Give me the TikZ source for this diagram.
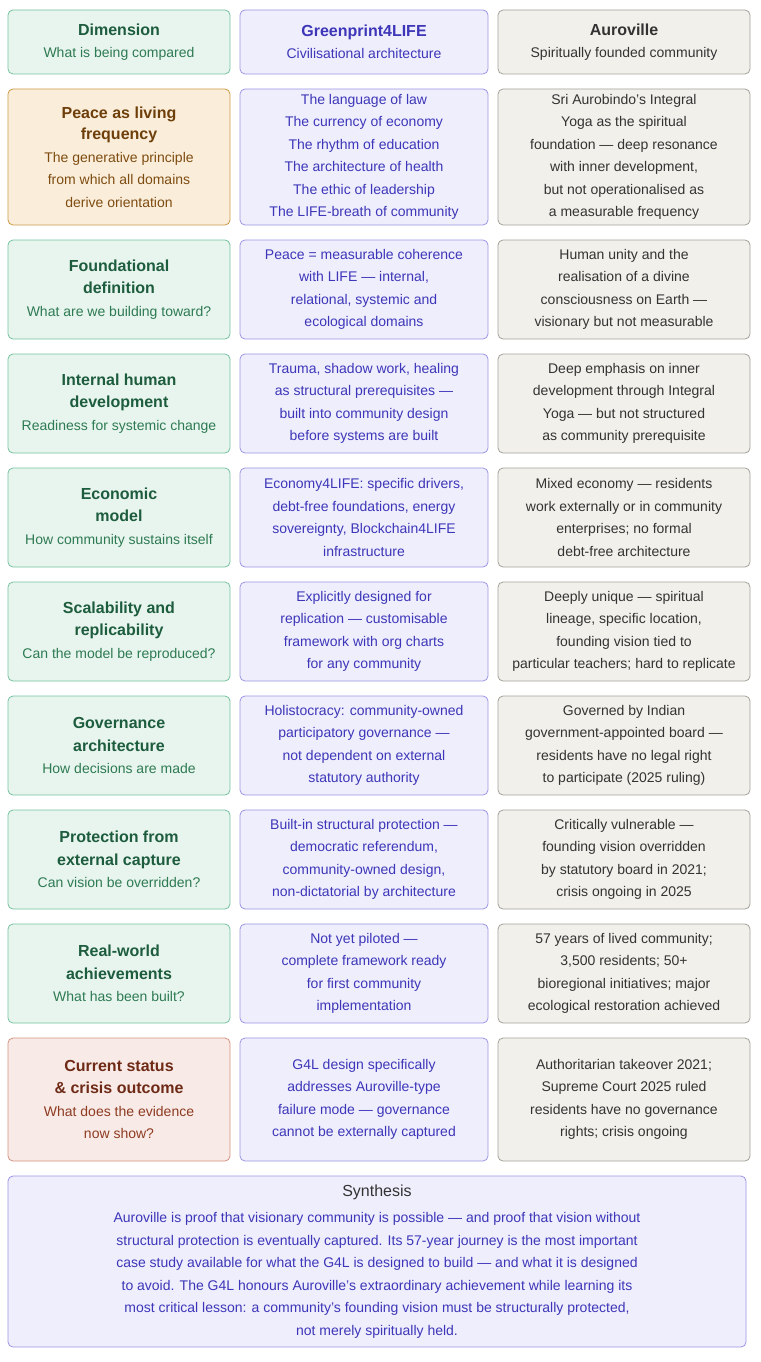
\documentclass[tikz,border=0pt]{standalone}
\usepackage{fontspec}
\setmainfont{Liberation Sans}
\definecolor{gF}{HTML}{E7F5EE}\definecolor{gB}{HTML}{74C29E}\definecolor{gT}{HTML}{1E5C3E}\definecolor{gS}{HTML}{2E7A52}
\definecolor{lF}{HTML}{EFEEFD}\definecolor{lB}{HTML}{9A96E4}\definecolor{lT}{HTML}{3D36B8}
\definecolor{yF}{HTML}{F1F0EB}\definecolor{yB}{HTML}{A3A199}\definecolor{yT}{HTML}{333333}
\definecolor{oF}{HTML}{FAEEDB}\definecolor{oB}{HTML}{CC9A45}\definecolor{oT}{HTML}{6E3F0A}\definecolor{oS}{HTML}{7E4C10}
\definecolor{rF}{HTML}{F8EAE6}\definecolor{rB}{HTML}{D49280}\definecolor{rT}{HTML}{6E2A16}\definecolor{rS}{HTML}{8E3B22}
\tikzset{
 cellbox/.style={draw,rounded corners=5pt,line width=0.8pt,align=center,inner sep=0pt,font=\fontsize{14}{22.5}\selectfont},
 cg/.style={cellbox,fill=gF,draw=gB,text=gS},
 cl/.style={cellbox,fill=lF,draw=lB,text=lT},
 cy/.style={cellbox,fill=yF,draw=yB,text=yT},
 co/.style={cellbox,fill=oF,draw=oB,text=oS},
 cr/.style={cellbox,fill=rF,draw=rB,text=rS},
}
\newcommand{\cell}[7]{\node[#2,minimum width=#5pt-#3pt,minimum height=#6pt-#4pt] (#1) at ({(#3+#5)/2},{(#4+#6)/2}) {#7};}
\newcommand{\ttl}[2]{{\fontsize{16}{22.5}\selectfont\bfseries\color{#1}#2}}
\begin{document}
\begin{tikzpicture}[x=1pt,y=-1pt]
\useasboundingbox (0,0) rectangle (760,1362);
% header
\cell{h1}{cg}{8}{10}{230}{74}{\ttl{gT}{Dimension}\\What is being compared}
\cell{h2}{cl}{240}{10}{488}{74}{\ttl{lT}{Greenprint4LIFE}\\Civilisational architecture}
\cell{h3}{cy}{498}{10}{750}{74}{\ttl{yT}{Auroville}\\Spiritually founded community}
% row1
\cell{a1}{co}{8}{89}{230}{225}{\ttl{oT}{Peace as living}\\[-1pt]\ttl{oT}{frequency}\\The generative principle\\from which all domains\\derive orientation}
\cell{b1}{cl}{240}{89}{488}{225}{The language of law\\The currency of economy\\The rhythm of education\\The architecture of health\\The ethic of leadership\\The LIFE-breath of community}
\cell{c1}{cy}{498}{89}{750}{225}{Sri Aurobindo's Integral\\Yoga as the spiritual\\foundation — deep resonance\\with inner development,\\but not operationalised as\\a measurable frequency}
% row2
\cell{a2}{cg}{8}{240}{230}{339}{\ttl{gT}{Foundational}\\\ttl{gT}{definition}\\What are we building toward?}
\cell{b2}{cl}{240}{240}{488}{339}{Peace = measurable coherence\\with LIFE — internal,\\relational, systemic and\\ecological domains}
\cell{c2}{cy}{498}{240}{750}{339}{Human unity and the\\realisation of a divine\\consciousness on Earth —\\visionary but not measurable}
% row3
\cell{a3}{cg}{8}{354}{230}{453}{\ttl{gT}{Internal human}\\\ttl{gT}{development}\\Readiness for systemic change}
\cell{b3}{cl}{240}{354}{488}{453}{Trauma, shadow work, healing\\as structural prerequisites —\\built into community design\\before systems are built}
\cell{c3}{cy}{498}{354}{750}{453}{Deep emphasis on inner\\development through Integral\\Yoga — but not structured\\as community prerequisite}
% row4
\cell{a4}{cg}{8}{468}{230}{567}{\ttl{gT}{Economic}\\\ttl{gT}{model}\\How community sustains itself}
\cell{b4}{cl}{240}{468}{488}{567}{Economy4LIFE: specific drivers,\\debt-free foundations, energy\\sovereignty, Blockchain4LIFE\\infrastructure}
\cell{c4}{cy}{498}{468}{750}{567}{Mixed economy — residents\\work externally or in community\\enterprises; no formal\\debt-free architecture}
% row5
\cell{a5}{cg}{8}{582}{230}{681}{\ttl{gT}{Scalability and}\\\ttl{gT}{replicability}\\Can the model be reproduced?}
\cell{b5}{cl}{240}{582}{488}{681}{Explicitly designed for\\replication — customisable\\framework with org charts\\for any community}
\cell{c5}{cy}{498}{582}{750}{681}{Deeply unique — spiritual\\lineage, specific location,\\founding vision tied to\\particular teachers; hard to replicate}
% row6
\cell{a6}{cg}{8}{696}{230}{795}{\ttl{gT}{Governance}\\\ttl{gT}{architecture}\\How decisions are made}
\cell{b6}{cl}{240}{696}{488}{795}{Holistocracy: community-owned\\participatory governance —\\not dependent on external\\statutory authority}
\cell{c6}{cy}{498}{696}{750}{795}{Governed by Indian\\government-appointed board —\\residents have no legal right\\to participate (2025 ruling)}
% row7
\cell{a7}{cg}{8}{810}{230}{909}{\ttl{gT}{Protection from}\\\ttl{gT}{external capture}\\Can vision be overridden?}
\cell{b7}{cl}{240}{810}{488}{909}{Built-in structural protection —\\democratic referendum,\\community-owned design,\\non-dictatorial by architecture}
\cell{c7}{cy}{498}{810}{750}{909}{Critically vulnerable —\\founding vision overridden\\by statutory board in 2021;\\crisis ongoing in 2025}
% row8
\cell{a8}{cg}{8}{924}{230}{1023}{\ttl{gT}{Real-world}\\\ttl{gT}{achievements}\\What has been built?}
\cell{b8}{cl}{240}{924}{488}{1023}{Not yet piloted —\\complete framework ready\\for first community\\implementation}
\cell{c8}{cy}{498}{924}{750}{1023}{57 years of lived community;\\3,500 residents; 50+\\bioregional initiatives; major\\ecological restoration achieved}
% row9
\cell{a9}{cr}{8}{1038}{230}{1161}{\ttl{rT}{Current status}\\\ttl{rT}{\& crisis outcome}\\What does the evidence\\now show?}
\cell{b9}{cl}{240}{1038}{488}{1161}{G4L design specifically\\addresses Auroville-type\\failure mode — governance\\cannot be externally captured}
\cell{c9}{cy}{498}{1038}{750}{1161}{Authoritarian takeover 2021;\\Supreme Court 2025 ruled\\residents have no governance\\rights; crisis ongoing}
% synthesis
\cell{syn}{cl}{8}{1176}{746}{1347}{{\fontsize{16}{22.5}\selectfont\color{yT}Synthesis}\\[4pt]Auroville is proof that visionary community is possible — and proof that vision without\\structural protection is eventually captured. Its 57-year journey is the most important\\case study available for what the G4L is designed to build — and what it is designed\\to avoid. The G4L honours Auroville's extraordinary achievement while learning its\\most critical lesson: a community's founding vision must be structurally protected,\\not merely spiritually held.}
\end{tikzpicture}
\end{document}
